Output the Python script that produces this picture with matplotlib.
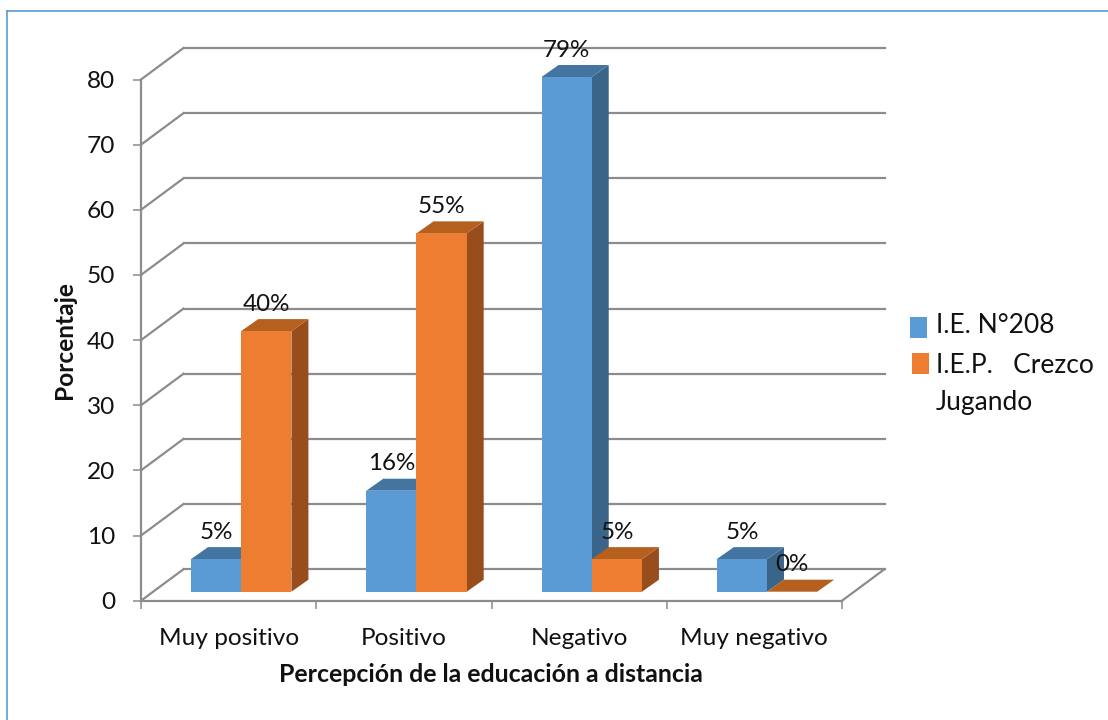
import matplotlib
matplotlib.use("Agg")
import matplotlib.pyplot as plt
from matplotlib.lines import Line2D
from matplotlib.patches import Polygon, Rectangle
from matplotlib.transforms import Affine2D, IdentityTransform

categories = ["Muy positivo", "Positivo", "Negativo", "Muy negativo"]
series_names = ["I.E. N°208", "I.E.P.   Crezco\nJugando"]
ie_208 = [5, 15.5, 79, 5]
iep_crezco = [40, 55, 5, 0]
ie_208_labels = ["5%", "16%", "79%", "5%"]
iep_crezco_labels = ["40%", "55%", "5%", "0%"]
y_ticks = [0, 10, 20, 30, 40, 50, 60, 70, 80]

W, H = 1108, 720
plt.rcParams["font.family"] = ["Lato", "DejaVu Sans"]
GRID = "#8C8C8C"
TXT = "#111111"
fig = plt.figure(figsize=(W / 100, H / 100), dpi=100, facecolor="white")

# outer chart frame: only the top and left edges are visible
for xs, ys in (([7 / W, 7 / W], [0, 1 - 11 / H]), ([7 / W, 1], [1 - 11 / H, 1 - 11 / H])):
    fig.add_artist(Line2D(xs, ys, transform=fig.transFigure, color="#5B9BD5", lw=1.2))

x0, x1, y0, y1 = 141, 842, 600.7, 79.5
ax = fig.add_axes([x0 / W, 1 - y0 / H, (x1 - x0) / W, (y0 - y1) / H])
ax.set_xlim(0, len(categories))
ax.set_ylim(0, 80)
ax.patch.set_visible(False)
for s in ("top", "right"):
    ax.spines[s].set_visible(False)
for s in ("left", "bottom"):
    ax.spines[s].set_color(GRID)
    ax.spines[s].set_linewidth(1.6)
    ax.spines[s].set_zorder(2)

ax.set_yticks(y_ticks)
ax.set_xticks(range(len(categories) + 1))
ax.set_xticklabels([])
ax.set_xticks([i + 0.5 for i in range(len(categories))], categories, minor=True)
ax.tick_params(axis="y", length=5.8, width=1.1, color=GRID, labelsize=17.6, pad=13, labelcolor=TXT)
ax.tick_params(axis="x", which="major", length=5.8, width=1.1, color=GRID)
ax.tick_params(axis="x", which="minor", length=0, labelsize=17.6, pad=20, labelcolor=TXT)

# walls and floor
DX, DY = 42.5, 31.5
back = ax.transData + Affine2D().translate(DX, DY)
n = len(categories)
for v in y_ticks:
    ax.plot([0, n], [v, v], transform=back, color=GRID, lw=1.6, clip_on=False, zorder=1)
    p = ax.transData.transform((0, v))
    ax.plot([p[0], p[0] + DX], [p[1], p[1] + DY], transform=IdentityTransform(),
            color=GRID, lw=1.6, clip_on=False, zorder=1)
p = ax.transData.transform((n, 0))
ax.plot([p[0], p[0] + DX], [p[1], p[1] + DY], transform=IdentityTransform(),
        color=GRID, lw=1.6, clip_on=False, zorder=1)

# bars
BX, BY = 12.6, 9.0      # bar front plane offset from the floor front edge
TX, TY = 17, 12         # bar depth
plane = ax.transData + Affine2D().translate(BX, BY)
BW = 50.2 / 175.25
styles = [("#5B9BD5", "#4475A0", "#3A6488"), ("#ED7D31", "#B5601F", "#984D1C")]
z = 3
for s, (vals, labels, (front, top, side)) in enumerate(
        zip((ie_208, iep_crezco), (ie_208_labels, iep_crezco_labels), styles)):
    for i, (v, lab) in enumerate(zip(vals, labels)):
        left = i + 0.5 - BW + s * BW
        right = left + BW
        a = plane.transform((left, 0))
        b = plane.transform((right, 0))
        c = plane.transform((right, v))
        d = plane.transform((left, v))
        off = [TX, TY]
        ax.add_patch(Polygon([b, b + off, c + off, c], transform=IdentityTransform(),
                             fc=side, ec="none", clip_on=False, zorder=z))
        ax.add_patch(Polygon([d, c, c + off, d + off], transform=IdentityTransform(),
                             fc=top, ec="none", clip_on=False, zorder=z))
        ax.add_patch(Polygon([a, b, c, d], transform=IdentityTransform(),
                             fc=front, ec="none", clip_on=False, zorder=z + 0.1))
        ax.annotate(lab, xy=((left + right) / 2, v), xycoords=plane,
                    xytext=(0, 27 * 0.72), textcoords="offset points",
                    ha="center", va="center", fontsize=17.4, color=TXT, zorder=6,
                    annotation_clip=False)

# axis titles
fig.text(65 / W, 1 - 340 / H, "Porcentaje", rotation=90, ha="center", va="center",
         fontsize=17.6, fontweight="bold", color=TXT)
fig.text(490.5 / W, 1 - 675 / H, "Percepción de la educación a distancia", ha="center",
         va="center", fontsize=17.9, fontweight="bold", color=TXT)

# legend
swatches = [(910, 317), (912, 353)]
text_y = [326, 384]
for (sx, sy), name, ty, st in zip(swatches, series_names, text_y, styles):
    fig.add_artist(Rectangle((sx / W, 1 - (sy + 21) / H), 17 / W, 21 / H,
                             transform=fig.transFigure, fc=st[0], ec="none"))
    fig.text(936 / W, 1 - ty / H, name, ha="left", va="center", fontsize=19,
             color=TXT, linespacing=1.6)

fig.savefig("out.png", dpi=100, facecolor="white")
